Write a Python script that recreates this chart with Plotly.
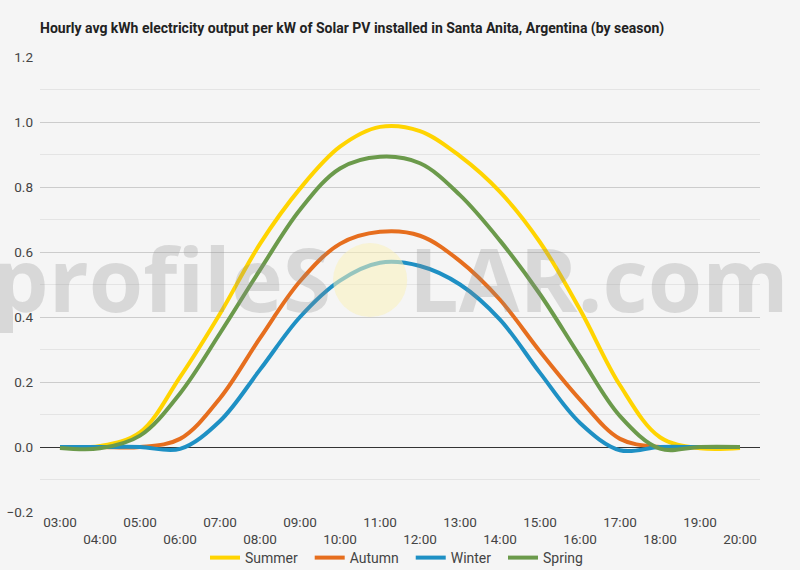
import plotly.graph_objects as go

# === Data ===
hours = ["03:00", "04:00", "05:00", "06:00", "07:00", "08:00", "09:00", "10:00", "11:00",
         "12:00", "13:00", "14:00", "15:00", "16:00", "17:00", "18:00", "19:00", "20:00"]

summer = [0.0, 0.003, 0.045, 0.215, 0.41, 0.625, 0.795, 0.924, 0.985,
          0.972, 0.895, 0.785, 0.63, 0.423, 0.19, 0.03, -0.004, -0.003]
autumn = [0.0, 0.0, 0.0, 0.025, 0.15, 0.335, 0.51, 0.625, 0.662,
          0.65, 0.572, 0.453, 0.294, 0.146, 0.025, 0.0, 0.0, 0.0]
winter = [0.0, 0.0, 0.0, -0.006, 0.08, 0.238, 0.4, 0.512, 0.567,
          0.557, 0.5, 0.392, 0.228, 0.074, -0.01, 0.0, 0.0, 0.0]
spring = [-0.003, -0.004, 0.035, 0.165, 0.35, 0.545, 0.73, 0.857, 0.893,
          0.873, 0.775, 0.635, 0.47, 0.279, 0.095, -0.005, 0.0, 0.0]

series = [
    ("Summer", summer, "#FFD400"),
    ("Autumn", autumn, "#E66E1E"),
    ("Winter", winter, "#1E90C4"),
    ("Spring", spring, "#6B9A4B"),
]

# alternate tick labels on two rows
tick_text = [h if i % 2 == 0 else "<br>" + h for i, h in enumerate(hours)]

fig = go.Figure()

for name, vals, color in series:
    fig.add_trace(go.Scatter(
        x=hours, y=vals, mode="lines", name=name + "\u00a0\u00a0",
        line=dict(color=color, width=4, shape="spline", smoothing=1.0)
    ))

# === Watermark ===
wm_color = "rgba(140,140,140,0.27)"
fig.add_annotation(text="profileS", xref="paper", yref="paper", x=0.407, y=0.515,
                   xanchor="right", yanchor="middle", showarrow=False,
                   font=dict(family="Open Sans", size=88, color=wm_color, weight=700))
fig.add_annotation(text="LAR.com", xref="paper", yref="paper", x=0.51, y=0.515,
                   xanchor="left", yanchor="middle", showarrow=False,
                   font=dict(family="Open Sans", size=88, color=wm_color, weight=700))
fig.add_shape(type="circle", xref="paper", yref="paper",
              x0=0.407, x1=0.51, y0=0.4286, y1=0.591,
              fillcolor="rgba(250,240,185,0.55)", line_width=0, layer="above")

# === Layout ===
fig.update_layout(
    width=800, height=570,
    margin=dict(l=40, r=40, t=57, b=58),
    paper_bgcolor="#F5F5F5",
    plot_bgcolor="#F5F5F5",
    font=dict(family="Roboto", size=13, color="#444444"),
    title=dict(
        text="<b>Hourly avg kWh electricity output per kW of Solar PV installed in Santa Anita, Argentina (by season)</b>",
        x=40 / 800, xref="container", xanchor="left",
        y=1 - 28 / 570, yref="container", yanchor="middle",
        font=dict(family="Roboto", size=14, color="#222222"),
    ),
    showlegend=True,
    legend=dict(orientation="h", x=0.5, xanchor="center",
                y=1 - 558 / 570, yref="container", yanchor="middle",
                font=dict(size=14, color="#444444"), itemwidth=30,
                bgcolor="rgba(0,0,0,0)"),
    xaxis=dict(
        type="category", range=[-0.5, 17.5], automargin=False,
        tickmode="array", tickvals=hours, ticktext=tick_text,
        showgrid=False, showline=False, ticks="", zeroline=False,
        tickfont=dict(size=13.5, color="#444444"),
    ),
    yaxis=dict(
        range=[-0.2, 1.2], tick0=-0.2, dtick=0.2, tickformat=".1f", automargin=False,
        showgrid=True, gridcolor="#CCCCCC", gridwidth=1,
        zeroline=True, zerolinecolor="#333333", zerolinewidth=1,
        minor=dict(dtick=0.1, showgrid=True, gridcolor="#E4E4E4", gridwidth=1),
        showline=False, ticks="", ticklabelstandoff=6,
        tickfont=dict(size=13.5, color="#444444"),
    ),
)

fig.write_html("out.html", config={"displayModeBar": False},
               post_script="document.body.style.margin='0';document.body.style.background='#F5F5F5';")
